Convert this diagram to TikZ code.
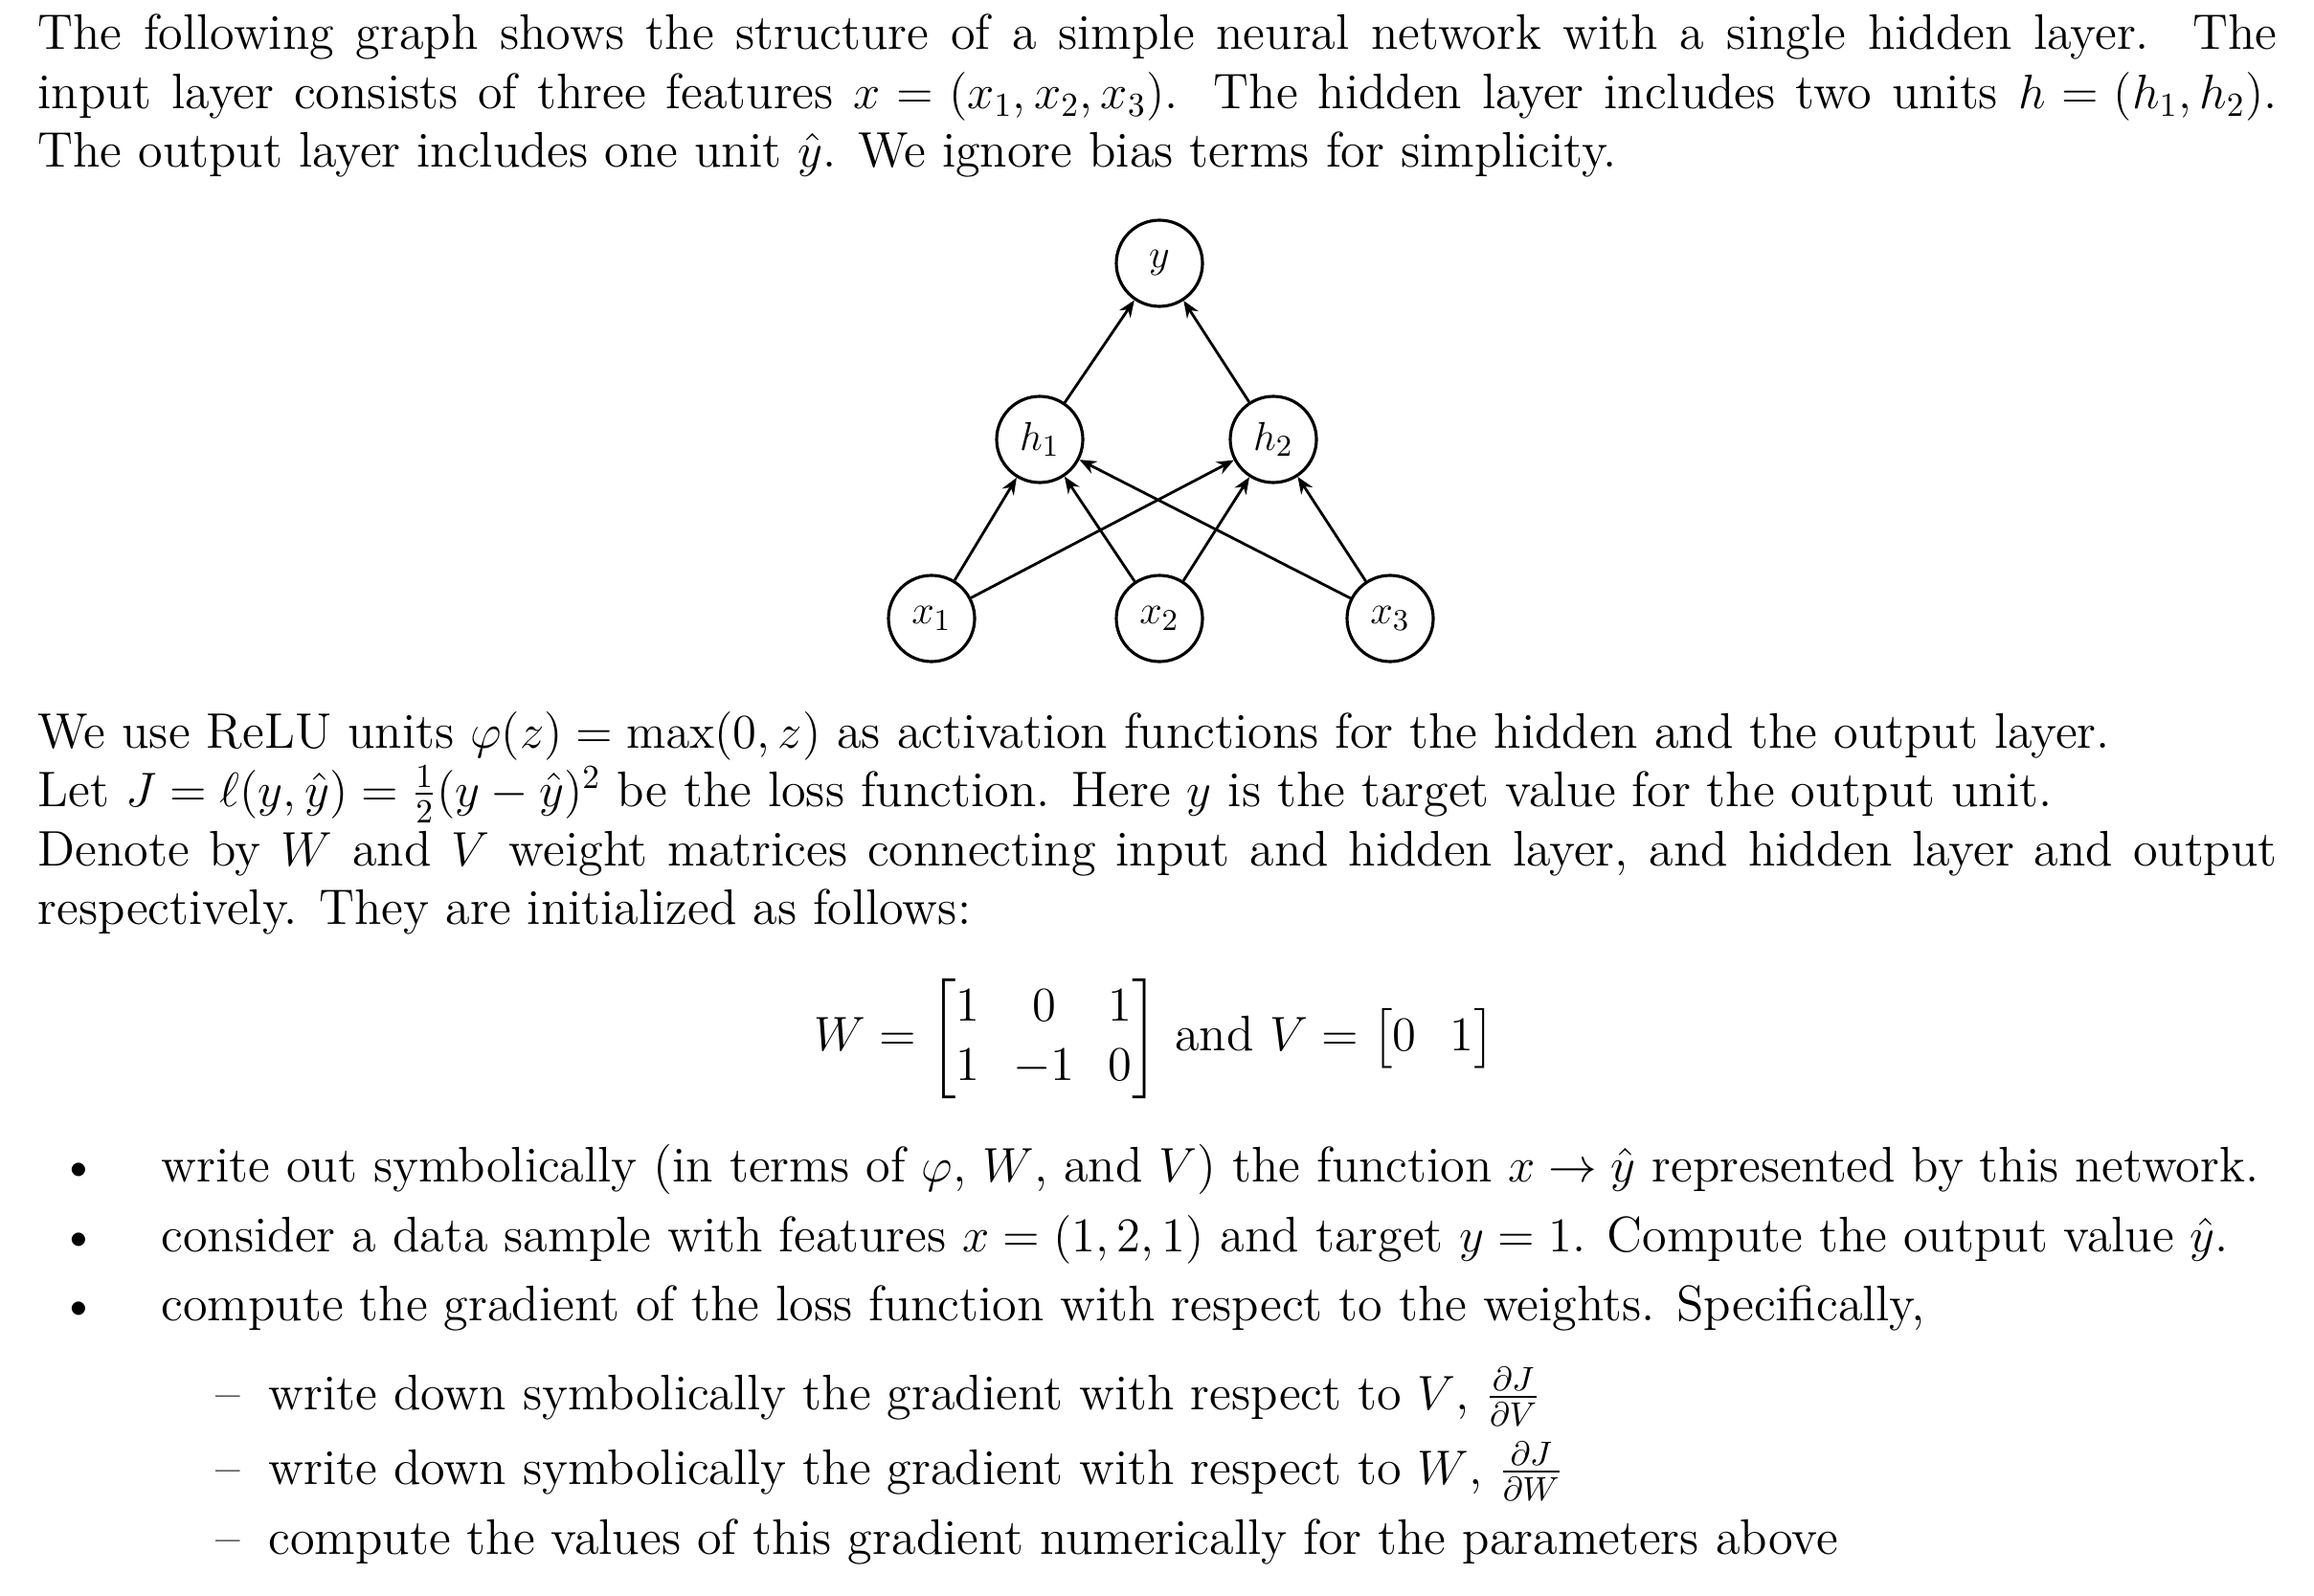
\documentclass[tikz,border=0pt]{standalone}
\usepackage{amsmath,amssymb}
\usetikzlibrary{arrows.meta}
\begin{document}
\begin{tikzpicture}[
  unit/.style={circle,draw,line width=0.9pt,minimum size=0.9cm,inner sep=0pt,font=\fontsize{13}{15}\selectfont},
  conn/.style={-{Stealth[length=5pt,width=4pt]},line width=0.8pt},
  txt/.style={anchor=base west,inner sep=0pt,font=\fontsize{14.85}{17.7}\selectfont}]
\useasboundingbox (0,0) rectangle (24.17,-16.66);
\newcommand{\fl}[1]{\hbox to 23.39cm{\spaceskip=0.3em plus 0.6em minus 0.22em \thickmuskip=5mu plus 5mu minus 3mu\medmuskip=4mu plus 2mu minus 3mu #1}}
\node[txt] (p1) at (0.389,-0.513) {\fl{The following graph shows the structure of a simple neural network with a single hidden layer.\ \ The}};
\node[txt] (p2) at (0.389,-1.136) {\fl{input layer consists of three features $x=(x_1,x_2,x_3)$. The hidden layer includes two units $h=(h_1,h_2)$.}};
\node[txt] (p3) at (0.389,-1.743) {The output layer includes one unit $\hat y$. We ignore bias terms for simplicity.};
\node[unit] (y) at (12.11,-2.75) {$y$};
\node[unit] (h1) at (10.86,-4.59) {$h_1$};
\node[unit] (h2) at (13.30,-4.59) {$h_2$};
\node[unit] (x1) at (9.73,-6.46) {$x_1$};
\node[unit] (x2) at (12.11,-6.46) {$x_2$};
\node[unit] (x3) at (14.52,-6.46) {$x_3$};
\foreach \a/\b in {x1/h1,x1/h2,x2/h1,x2/h2,x3/h1,x3/h2,h1/y,h2/y} \draw[conn] (\a) -- (\b);
\node[txt] (q1) at (0.389,-7.81) {We use ReLU units $\varphi(z)=\max(0,z)$ as activation functions for the hidden and the output layer.};
\node[txt] (q2) at (0.389,-8.42) {Let $J=\ell(y,\hat y)=\frac12(y-\hat y)^2$ be the loss function. Here $y$ is the target value for the output unit.};
\node[txt] (q3) at (0.389,-9.04) {\fl{Denote by $W$ and $V$ weight matrices connecting input and hidden layer, and hidden layer and output}};
\node[txt] (q4) at (0.389,-9.65) {respectively. They are initialized as follows:};
\node[font=\fontsize{14.85}{17.7}\selectfont,inner sep=0pt] (eq) at (12.06,-10.85) {$W=\begin{bmatrix}1&0&1\\1&-1&0\end{bmatrix}$ and $V=\begin{bmatrix}0&1\end{bmatrix}$};
\node[txt] (b1) at (0.62,-12.34) {\textbullet};
\node[txt] (b2) at (0.62,-13.07) {\textbullet};
\node[txt] (b3) at (0.62,-13.79) {\textbullet};
\node[txt] (t1) at (1.68,-12.34) {write out symbolically (in terms of $\varphi$, $W$, and $V$) the function $x\to\hat y$ represented by this network.};
\node[txt] (t2) at (1.68,-13.07) {consider a data sample with features $x=(1,2,1)$ and target $y=1$. Compute the output value $\hat y$.};
\node[txt] (t3) at (1.68,-13.79) {compute the gradient of the loss function with respect to the weights. Specifically,};
\node[txt] (d1) at (2.25,-14.72) {--};
\node[txt] (d2) at (2.25,-15.50) {--};
\node[txt] (d3) at (2.25,-16.23) {--};
\node[txt] (s1) at (2.80,-14.72) {write down symbolically the gradient with respect to $V$, $\frac{\partial J}{\partial V}$};
\node[txt] (s2) at (2.80,-15.50) {write down symbolically the gradient with respect to $W$, $\frac{\partial J}{\partial W}$};
\node[txt] (s3) at (2.80,-16.23) {compute the values of this gradient numerically for the parameters above};
\end{tikzpicture}
\end{document}
